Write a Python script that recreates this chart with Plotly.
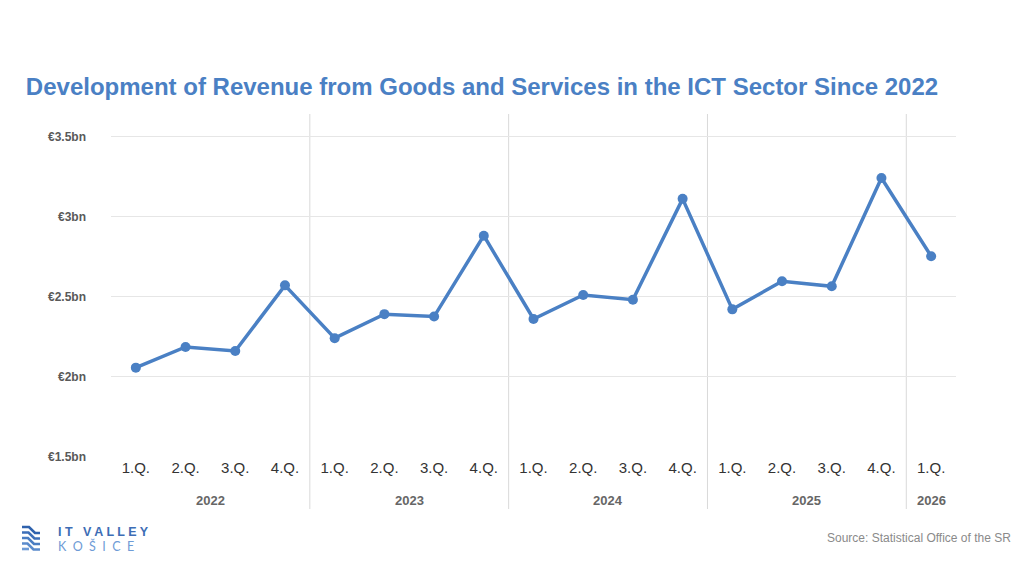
import plotly.graph_objects as go

# quarterly revenue of the ICT sector, EUR bn
quarters = ["1.Q.", "2.Q.", "3.Q.", "4.Q.",
            "1.Q.", "2.Q.", "3.Q.", "4.Q.",
            "1.Q.", "2.Q.", "3.Q.", "4.Q.",
            "1.Q.", "2.Q.", "3.Q.", "4.Q.",
            "1.Q."]
years = ["2022", "2022", "2022", "2022",
         "2023", "2023", "2023", "2023",
         "2024", "2024", "2024", "2024",
         "2025", "2025", "2025", "2025",
         "2026"]
revenue_bn = [2.056, 2.185, 2.16, 2.57,
              2.24, 2.39, 2.375, 2.88,
              2.36, 2.51, 2.48, 3.11,
              2.42, 2.596, 2.564, 3.24,
              2.752]
y_ticks = [1.5, 2, 2.5, 3, 3.5]
y_tick_labels = ["€1.5bn", "€2bn", "€2.5bn", "€3bn", "€3.5bn"]

BLUE = "#4a80c4"
FONT = "Liberation Sans, Arial, sans-serif"

# page puts the figure 8px in from the corner
OFF = 8
W, H = 1024 - OFF, 576 - OFF
# plot area in page pixels
L, R, T, B = 111, 956, 114, 457
def px(x):
    return (x - L) / (R - L)
def py(y):
    return (B - y) / (B - T)

x = list(range(len(revenue_bn)))

fig = go.Figure()
fig.add_trace(go.Scatter(
    x=x, y=revenue_bn, mode="lines+markers",
    line=dict(color=BLUE, width=3.5),
    marker=dict(color=BLUE, size=10),
    hoverinfo="y", showlegend=False))

# year separators and labels
shapes = []
annotations = []
groups = {}
for i, yr in enumerate(years):
    groups.setdefault(yr, []).append(i)
    if i > 0 and years[i] != years[i - 1]:
        shapes.append(dict(type="line", xref="x", yref="paper",
                           x0=i - 0.5, x1=i - 0.5, y0=py(509), y1=1,
                           line=dict(color="#d9d9d9", width=1), layer="below"))
for yr, idx in groups.items():
    annotations.append(dict(text="<b>%s</b>" % yr, xref="x", yref="paper",
                            x=sum(idx) / len(idx), y=py(501), showarrow=False,
                            yanchor="middle",
                            font=dict(family=FONT, size=13, color="#666666")))

annotations.append(dict(text="Source: Statistical Office of the SR",
                        xref="paper", yref="paper", x=px(1013), y=py(538),
                        xanchor="right", yanchor="middle", showarrow=False,
                        font=dict(family=FONT, size=12, color="#8a8a8a")))

# logo
annotations.append(dict(text="<b>I T   V A L L E Y</b>", xref="paper", yref="paper",
                        x=px(56), y=py(532), xanchor="left", yanchor="middle",
                        showarrow=False,
                        font=dict(family=FONT, size=12.5, color="#3d6db5")))
annotations.append(dict(text="K  O  Š  I  C  E", xref="paper", yref="paper",
                        x=px(56), y=py(546), xanchor="left", yanchor="middle",
                        showarrow=False,
                        font=dict(family="DejaVu Sans ExtraLight, Lato, sans-serif",
                                  size=12.5, color="#6e9bd6")))
stripe_colors = ["#2f62ad", "#3d6fb8", "#4a7dc2", "#5b8bcc", "#6e9bd6"]
for k, c in enumerate(stripe_colors):
    y0 = 527 + k * 5.5
    pts = [(22, y0), (29 - k * 0.5, y0), (35 - k * 0.5, y0 + 6), (40, y0 + 6)]
    if k == 4:
        pts = [(22, y0), (29, y0)]
    path = "M " + " L ".join("%f,%f" % (px(a), py(b)) for a, b in pts)
    shapes.append(dict(type="path", xref="paper", yref="paper", path=path,
                       line=dict(color=c, width=2.6)))

fig.update_layout(
    width=W, height=H,
    paper_bgcolor="white", plot_bgcolor="white",
    margin=dict(l=L - OFF, r=1024 - R, t=T - OFF, b=576 - B),
    title=dict(text="<b>Development of Revenue from Goods and Services in the ICT Sector Since 2022</b>",
               x=(482 - OFF) / W, xanchor="center", y=1 - (87 - OFF) / H, yanchor="middle",
               yref="container",
               font=dict(family=FONT, size=24, color=BLUE)),
    xaxis=dict(range=[-0.5, len(x) - 0.5], tickvals=x, ticktext=quarters,
               showgrid=False, zeroline=False, showline=False, ticks="",
               tickfont=dict(family=FONT, size=15, color="#333333"),
               fixedrange=True),
    yaxis=dict(range=[1.498, 3.64], tickvals=y_ticks,
               ticktext=["<b>%s</b>" % t for t in y_tick_labels],
               showgrid=True, gridcolor="#e6e6e6", gridwidth=1.2,
               zeroline=False, showline=False, ticks="", ticklabelstandoff=24,
               tickfont=dict(family=FONT, size=12, color="#595959"),
               fixedrange=True),
    shapes=shapes, annotations=annotations,
)

fig.write_html("out.html")
